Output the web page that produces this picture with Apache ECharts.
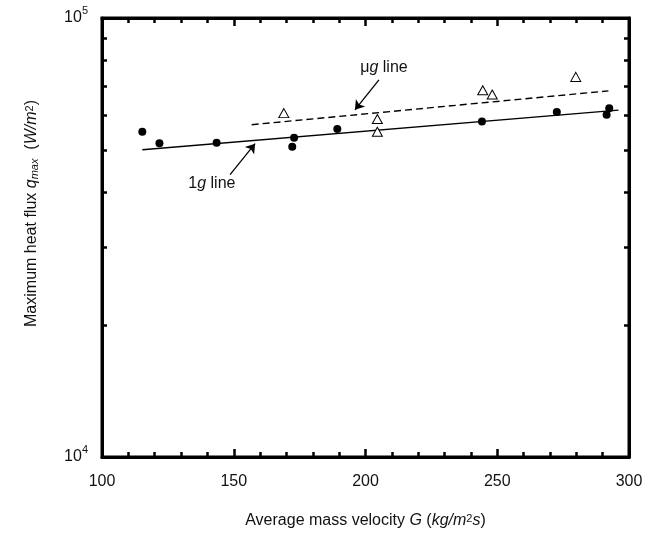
<!DOCTYPE html>
<html><head><meta charset="utf-8">
<script src="https://cdn.jsdelivr.net/npm/echarts@6/dist/echarts.min.js"></script>
<style>html,body{margin:0;padding:0;background:#fff}#c{width:661px;height:536px}</style>
</head><body><div id="c"></div>
<script>
// ---- data ----
const xTickValues = [100, 150, 200, 250, 300];
const yLabelValues = [10000, 100000];
const yMinorTicks = [20000, 30000, 40000, 50000, 60000, 70000, 80000, 90000];

const oneG_X = [115.3, 121.8, 143.5, 172.9, 172.2, 189.3, 244.2, 272.6, 292.5, 291.5];
const oneG_Y = [55080, 51810, 51990, 53380, 50920, 55850, 58130, 61040, 62330, 60190];

const muG_X = [169.0, 204.5, 204.5, 244.5, 248.1, 279.8];
const muG_Y = [60720, 58850, 55080, 68480, 66950, 73420];

const line1g_X = [115.3, 296.0];
const line1g_Y = [50120, 61690];
const lineMuG_X = [156.8, 292.2];
const lineMuG_Y = [57140, 68240];

const arrowMuG_X = [205.1, 196.0];
const arrowMuG_Y = [72290, 61780];
const arrow1g_X = [148.6, 158.1];
const arrow1g_Y = [43970, 51720];

const noteText = ['μ{i|g} line', '1{i|g} line'];
const noteX = [207.0, 141.7];
const noteY = [76990, 41970];

// ---- chart ----
const FONT = '"Liberation Sans", Arial, Helvetica, sans-serif';
const INK = '#111';
const zip = (a, b) => a.map((v, i) => [v, b[i]]);

const chart = echarts.init(document.getElementById('c'), null, {renderer: 'canvas'});

const xCommon = {
  type: 'value', min: 100, max: 300, interval: 50,
  axisLine: {show: true, lineStyle: {color: '#000', width: 3}},
  axisTick: {show: true, inside: true, length: 8, lineStyle: {color: '#000', width: 2.5}},
  minorTick: {show: true, splitNumber: 5, length: 5, lineStyle: {color: '#000', width: 2.5}},
  splitLine: {show: false}
};
const yCommon = {
  type: 'log', logBase: 10, min: 10000, max: 100000,
  axisLine: {show: true, lineStyle: {color: '#000', width: 3}},
  axisTick: {show: true, inside: true, length: 5, customValues: yMinorTicks, lineStyle: {color: '#000', width: 2.5}},
  splitLine: {show: false},
  minorTick: {show: false}
};

const option = {
  animation: false,
  backgroundColor: '#fff',
  textStyle: {fontFamily: FONT},
  grid: {left: 102, right: 32, top: 18, bottom: 79, show: true, borderColor: '#000', borderWidth: 3},
  xAxis: [
    Object.assign({}, xCommon, {
      position: 'bottom',
      name: 'Average mass velocity {i|G} ({i|kg/m}{sup|2}{i|s})',
      nameLocation: 'middle', nameGap: 56,
      nameTextStyle: {fontSize: 16, color: INK, fontFamily: FONT,
        rich: {i: {fontSize: 16, fontStyle: 'italic', fontFamily: FONT, color: INK},
               sup: {fontSize: 11, verticalAlign: 'top', fontFamily: FONT, color: INK}}},
      axisLabel: {show: true, fontSize: 16, color: INK, margin: 17, fontFamily: FONT,
                  customValues: xTickValues}
    }),
    Object.assign({}, xCommon, {position: 'top', axisLabel: {show: false}})
  ],
  yAxis: [
    Object.assign({}, yCommon, {
      position: 'left',
      name: 'Maximum heat flux {i|q}{sub|max}  ({i|W/m}{sup|2})',
      nameLocation: 'middle', nameGap: 62, nameRotate: 90,
      nameTextStyle: {fontSize: 16, color: INK, fontFamily: FONT, padding: [0, 0, 0, 48],
        rich: {i: {fontSize: 16, fontStyle: 'italic', fontFamily: FONT, color: INK},
               sub: {fontSize: 11, fontStyle: 'italic', verticalAlign: 'bottom', fontFamily: FONT, color: INK},
               sup: {fontSize: 11, verticalAlign: 'top', fontFamily: FONT, color: INK}}},
      axisLabel: {show: true, margin: 14, customValues: yLabelValues, fontFamily: FONT,
        formatter: v => '{b|10}{s|' + Math.round(Math.log10(v)) + '}',
        rich: {b: {fontSize: 16, color: INK, lineHeight: 26, fontFamily: FONT},
               s: {fontSize: 11, color: INK, verticalAlign: 'top', fontFamily: FONT}}}
    }),
    Object.assign({}, yCommon, {position: 'right', axisLabel: {show: false}})
  ],
  series: [
    {
      name: '1g line', type: 'line', data: zip(line1g_X, line1g_Y),
      showSymbol: false, symbol: 'none', silent: true,
      lineStyle: {color: '#000', width: 1.4}, z: 2
    },
    {
      name: 'μg line', type: 'line', data: zip(lineMuG_X, lineMuG_Y),
      showSymbol: false, symbol: 'none', silent: true,
      lineStyle: {color: '#000', width: 1.4, type: [7, 4]}, z: 2
    },
    {
      name: 'arrows', type: 'line', data: [], silent: true, z: 3,
      markLine: {
        silent: true, symbol: ['none', 'arrow'], symbolSize: 9,
        label: {show: false},
        lineStyle: {color: '#000', width: 1.3, type: 'solid', opacity: 1},
        itemStyle: {color: '#000'},
        data: [
          [{coord: [arrowMuG_X[0], arrowMuG_Y[0]]}, {coord: [arrowMuG_X[1], arrowMuG_Y[1]]}],
          [{coord: [arrow1g_X[0], arrow1g_Y[0]]}, {coord: [arrow1g_X[1], arrow1g_Y[1]]}]
        ]
      }
    },
    {
      name: '1g data', type: 'scatter', data: zip(oneG_X, oneG_Y),
      symbol: 'circle', symbolSize: 8, itemStyle: {color: '#000', opacity: 1}, z: 4
    },
    {
      name: 'μg data', type: 'scatter', data: zip(muG_X, muG_Y),
      symbol: 'triangle', symbolSize: [10, 9],
      itemStyle: {color: '#fff', borderColor: '#000', borderWidth: 1, opacity: 1}, z: 4
    },
    {
      name: 'notes', type: 'scatter', silent: true,
      data: noteX.map((x, i) => ({value: [x, noteY[i]], label: {formatter: noteText[i]}})),
      symbolSize: 0.01, itemStyle: {color: 'rgba(0,0,0,0)', opacity: 1},
      label: {show: true, position: 'inside', fontSize: 16, color: INK, fontFamily: FONT, opacity: 1,
        rich: {i: {fontSize: 16, fontStyle: 'italic', color: INK, fontFamily: FONT}}},
      z: 5
    }
  ]
};
chart.setOption(option);
</script>
</body></html>
